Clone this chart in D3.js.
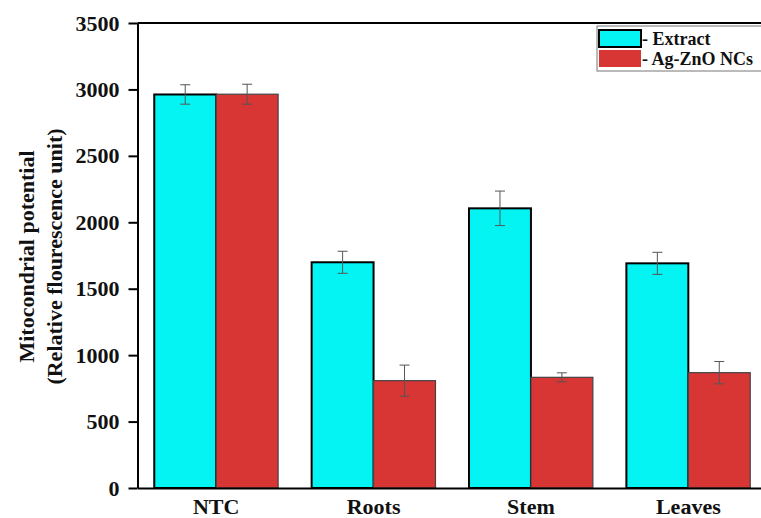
<!DOCTYPE html>
<html>
<head>
<meta charset="utf-8">
<script src="https://cdn.jsdelivr.net/npm/d3@7"></script>
<style>
  body { margin: 0; background: #fff; }
  svg text { font-family: "Liberation Serif", "Times New Roman", serif; font-weight: bold; fill: #111; }
</style>
</head>
<body>
<div id="main"></div>
<script>
// data
const groups = ["NTC", "Roots", "Stem", "Leaves"];
const seriesNames = ["- Extract", "- Ag-ZnO NCs"];
const extract = [2962, 1699, 2105, 1691];
const extractErr = [73, 83, 130, 83];
const agzno = [2964, 808, 833, 868];
const agznoErr = [75, 117, 34, 84];
const yTicks = [0, 500, 1000, 1500, 2000, 2500, 3000, 3500];

const W = 761, H = 518;
const plot = { left: 137.5, right: 767, top: 23, bottom: 488 };
const colors = ["#04f4f4", "#d83535"];
const strokes = ["#000", "#444"];

const svg = d3.select("#main")
    .append("svg")
    .attr("width", W)
    .attr("height", H);

const y = d3.scaleLinear()
    .domain([0, 3500])
    .range([plot.bottom, plot.top]);

const x = d3.scaleBand()
    .domain(groups)
    .range([plot.left, plot.right])
    .paddingInner(0.213)
    .paddingOuter(0.1065);

const xSub = d3.scaleBand()
    .domain([0, 1])
    .range([0, x.bandwidth()]);

const rows = groups.map((g, i) => ({
    group: g,
    vals: [
        { s: 0, v: extract[i], e: extractErr[i] },
        { s: 1, v: agzno[i], e: agznoErr[i] }
    ]
}));

// bars
const gBars = svg.append("g")
    .selectAll("g")
    .data(rows)
    .join("g")
    .attr("transform", d => `translate(${x(d.group)},0)`);

gBars.selectAll("rect")
    .data(d => d.vals)
    .join("rect")
    .attr("x", d => xSub(d.s))
    .attr("y", d => y(d.v))
    .attr("width", xSub.bandwidth())
    .attr("height", d => y(0) - y(d.v))
    .attr("fill", d => colors[d.s])
    .attr("stroke", d => strokes[d.s])
    .attr("stroke-width", d => d.s === 0 ? 2 : 1.2);

// error bars
const capW = 10;
const eb = gBars.selectAll(".err")
    .data(d => d.vals)
    .join("g")
    .attr("class", "err")
    .attr("stroke", "#555")
    .attr("stroke-width", 1);

eb.append("line")
    .attr("x1", d => xSub(d.s) + xSub.bandwidth() / 2)
    .attr("x2", d => xSub(d.s) + xSub.bandwidth() / 2)
    .attr("y1", d => y(d.v + d.e))
    .attr("y2", d => y(d.v - d.e));
eb.append("line")
    .attr("x1", d => xSub(d.s) + xSub.bandwidth() / 2 - capW / 2)
    .attr("x2", d => xSub(d.s) + xSub.bandwidth() / 2 + capW / 2)
    .attr("y1", d => y(d.v + d.e))
    .attr("y2", d => y(d.v + d.e));
eb.append("line")
    .attr("x1", d => xSub(d.s) + xSub.bandwidth() / 2 - capW / 2)
    .attr("x2", d => xSub(d.s) + xSub.bandwidth() / 2 + capW / 2)
    .attr("y1", d => y(d.v - d.e))
    .attr("y2", d => y(d.v - d.e));

// y axis
const yAxis = svg.append("g")
    .attr("transform", `translate(${plot.left},0)`)
    .call(d3.axisLeft(y).tickValues(yTicks).tickFormat(d3.format("d"))
        .tickSize(9).tickSizeOuter(0).tickPadding(9));
yAxis.select(".domain").attr("stroke", "#000").attr("stroke-width", 2);
yAxis.selectAll(".tick line").attr("stroke", "#000").attr("stroke-width", 2);
yAxis.selectAll(".tick text")
    .style("font-size", "22px")
    .style("font-family", "'Liberation Serif', serif")
    .style("font-weight", "bold")
    .attr("fill", "#111");

// x axis
const xAxis = svg.append("g")
    .attr("transform", `translate(0,${plot.bottom})`)
    .call(d3.axisBottom(x).tickSize(0).tickSizeOuter(0).tickPadding(10));
xAxis.select(".domain").attr("stroke", "#000").attr("stroke-width", 2);
xAxis.selectAll(".tick text")
    .style("font-size", "22px")
    .style("font-family", "'Liberation Serif', serif")
    .style("font-weight", "bold")
    .attr("fill", "#111");

// top frame line
svg.append("line")
    .attr("x1", plot.left)
    .attr("x2", plot.right)
    .attr("y1", plot.top)
    .attr("y2", plot.top)
    .attr("stroke", "#000")
    .attr("stroke-width", 2);

// y label
const yl = svg.append("text")
    .attr("transform", `translate(0,${(plot.top + plot.bottom) / 2 + 1}) rotate(-90)`)
    .attr("text-anchor", "middle")
    .style("font-size", "22px");
yl.append("tspan").attr("x", 0).attr("y", 34).text("Mitocondrial potential");
yl.append("tspan").attr("x", 0).attr("y", 62).text("(Relative flourescence unit)");

// legend
const lg = svg.append("g").attr("transform", "translate(597,26)");
lg.append("rect")
    .attr("width", 170)
    .attr("height", 45)
    .attr("fill", "#fff")
    .attr("stroke", "#777")
    .attr("stroke-width", 1);
const li = lg.selectAll(".li")
    .data(seriesNames)
    .join("g")
    .attr("class", "li")
    .attr("transform", (d, i) => `translate(2,${4 + i * 20})`);
li.append("rect")
    .attr("width", 42)
    .attr("height", 17)
    .attr("fill", (d, i) => colors[i])
    .attr("stroke", (d, i) => i === 0 ? "#000" : "none")
    .attr("stroke-width", 2);
li.append("text")
    .attr("x", 43)
    .attr("y", 15)
    .style("font-size", "18px")
    .text(d => d);
</script>
</body>
</html>
